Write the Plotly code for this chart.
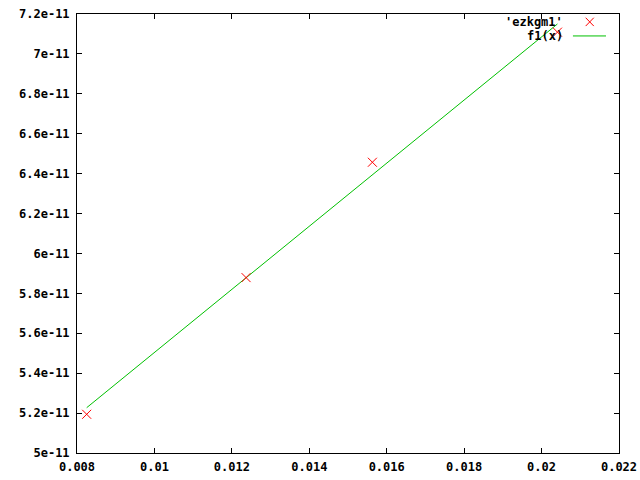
import plotly.graph_objects as go

# data points
pts_x = [0.00825, 0.012367, 0.01563, 0.02041]
pts_y = [5.194e-11, 5.879e-11, 6.457e-11, 7.109e-11]

# fitted line f1(x), endpoints
fit_x = [0.00825, 0.02041]
fit_y = [5.227e-11, 7.150e-11]

x_tickvals = [0.008, 0.010, 0.012, 0.014, 0.016, 0.018, 0.020, 0.022]
x_ticktext = ["0.008", "0.01", "0.012", "0.014", "0.016", "0.018", "0.02", "0.022"]
y_tickvals = [5.0e-11, 5.2e-11, 5.4e-11, 5.6e-11, 5.8e-11, 6.0e-11,
              6.2e-11, 6.4e-11, 6.6e-11, 6.8e-11, 7.0e-11, 7.2e-11]
y_ticktext = ["5e-11", "5.2e-11", "5.4e-11", "5.6e-11", "5.8e-11", "6e-11",
              "6.2e-11", "6.4e-11", "6.6e-11", "6.8e-11", "7e-11", "7.2e-11"]

legend_labels = ["'ezkgm1'", "f1(x)"]

RED = "#ff0000"
GREEN = "#00c000"

fig = go.Figure()
fig.add_trace(go.Scatter(x=fit_x, y=fit_y, mode="lines",
                         line=dict(color=GREEN, width=1), showlegend=False))
fig.add_trace(go.Scatter(x=pts_x, y=pts_y, mode="markers",
                         marker=dict(symbol="x-thin", size=9,
                                     line=dict(color=RED, width=1)),
                         showlegend=False))

font = dict(family="DejaVu Sans Mono", size=12, color="black", weight="bold")

axis_common = dict(showline=True, linecolor="black", linewidth=1, mirror="ticks",
                   ticks="inside", ticklen=5, tickcolor="black", showgrid=False,
                   zeroline=False, tickfont=font, automargin=False,
                   ticklabeloverflow="allow")

fig.update_xaxes(range=[0.008, 0.022], tickvals=x_tickvals, ticktext=x_ticktext,
                 ticklabelstandoff=3, **axis_common)
fig.update_yaxes(range=[5.0e-11, 7.2e-11], tickvals=y_tickvals, ticktext=y_ticktext,
                 ticklabelstandoff=4, **axis_common)

# gnuplot-style key: text right-aligned, sample on the right
fig.add_annotation(xref="paper", yref="paper", x=0.90, y=0.982, xanchor="right",
                   yanchor="middle", text=legend_labels[0], showarrow=False, font=font)
fig.add_annotation(xref="paper", yref="paper", x=0.90, y=0.950, xanchor="right",
                   yanchor="middle", text=legend_labels[1], showarrow=False, font=font)
# sample cross
cx, cy, dx, dy = 0.946, 0.982, 0.0075, 0.0095
fig.add_shape(type="line", xref="paper", yref="paper", x0=cx - dx, y0=cy - dy,
              x1=cx + dx, y1=cy + dy, line=dict(color=RED, width=1))
fig.add_shape(type="line", xref="paper", yref="paper", x0=cx - dx, y0=cy + dy,
              x1=cx + dx, y1=cy - dy, line=dict(color=RED, width=1))
# sample line
fig.add_shape(type="line", xref="paper", yref="paper", x0=0.915, y0=0.950,
              x1=0.976, y1=0.950, line=dict(color=GREEN, width=1))

fig.update_layout(width=640, height=480, plot_bgcolor="white", paper_bgcolor="white",
                  margin=dict(l=77, r=21, t=14, b=27), font=font, showlegend=False)

# remove the default 8px page margin so the figure fills the window exactly
fig.write_html("out.html", config={"displayModeBar": False},
               post_script="document.body.style.margin='0';")
